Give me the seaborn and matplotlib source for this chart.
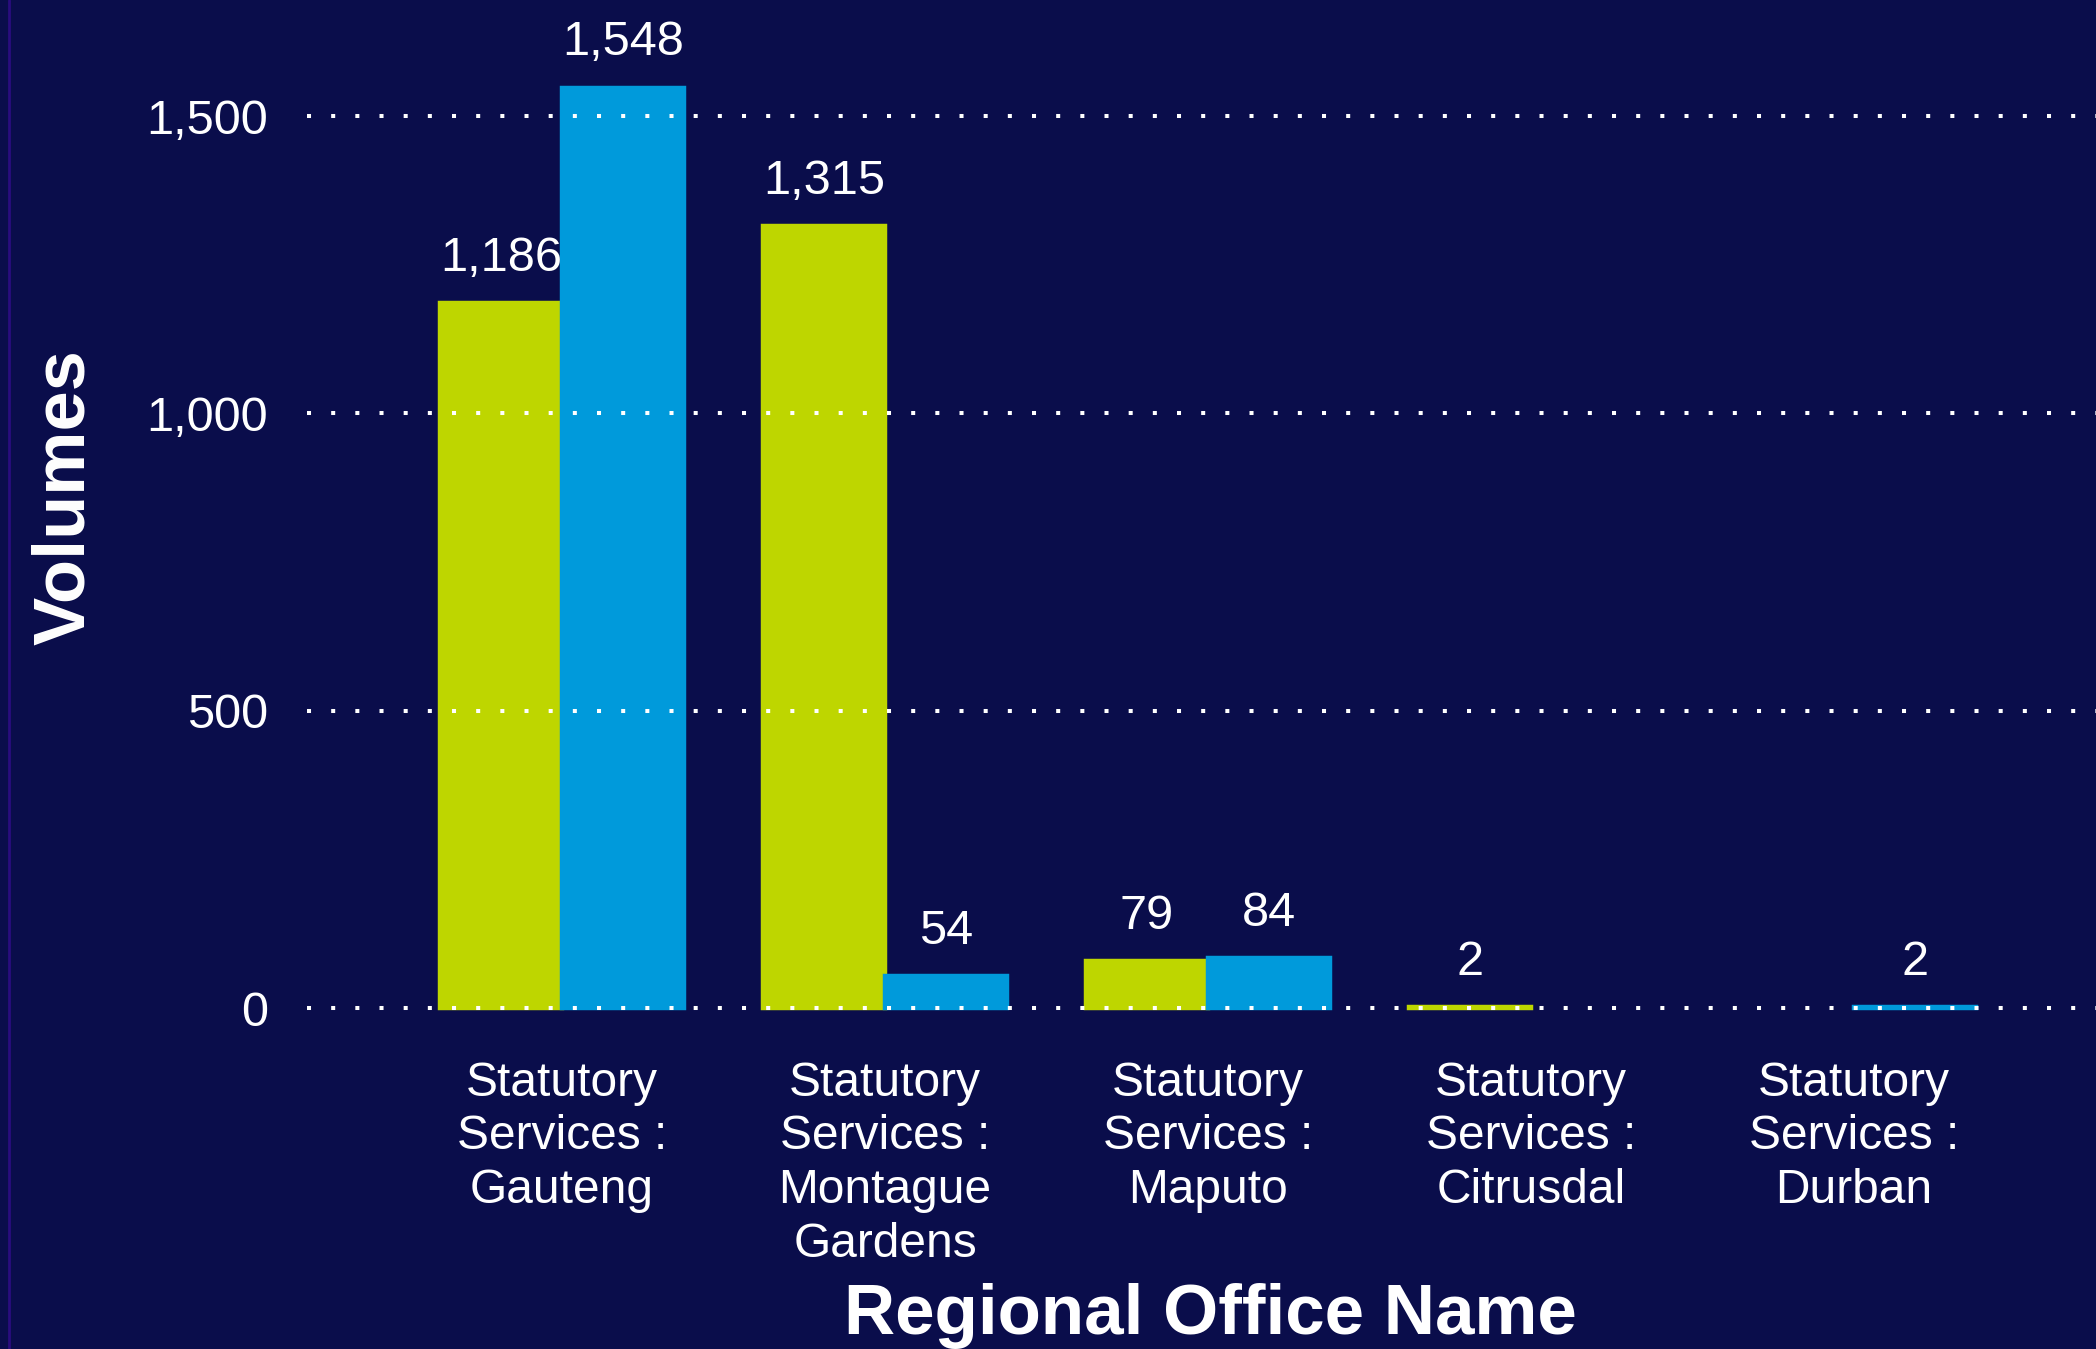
import matplotlib
matplotlib.use("Agg")
import matplotlib.pyplot as plt
from matplotlib.lines import Line2D
import seaborn as sns
import pandas as pd
import numpy as np

# ---- data ----
categories = [
    "Statutory\nServices :\nGauteng",
    "Statutory\nServices :\nMontague\nGardens",
    "Statutory\nServices :\nMaputo",
    "Statutory\nServices :\nCitrusdal",
    "Statutory\nServices :\nDurban",
]
series_names = ["Series 1", "Series 2"]
series_1 = [1186, 1315, 79, 2, np.nan]
series_2 = [1548, 54, 84, np.nan, 2]
y_ticks = [0, 500, 1000, 1500]

colors = ["#BED600", "#009ADB"]
bg = "#0A0D4B"

df = pd.DataFrame({
    "Regional Office Name": categories * 2,
    "Series": [series_names[0]] * len(categories) + [series_names[1]] * len(categories),
    "Volumes": series_1 + series_2,
})

sns.set_theme(style="dark")
plt.rcParams["font.family"] = ["Liberation Sans", "DejaVu Sans"]

W, H, DPI = 2096, 1349, 100
fig = plt.figure(figsize=(W / DPI, H / DPI), dpi=DPI, facecolor=bg)
ax_left, ax_bottom = 307 / W, 1 - 1008 / H
ax = fig.add_axes([ax_left, ax_bottom, 1 - ax_left, 1 - ax_bottom])
ax.set_facecolor(bg)

sns.barplot(
    data=df, x="Regional Office Name", y="Volumes", hue="Series",
    order=categories, hue_order=series_names, palette=colors,
    width=0.757, dodge=True, ax=ax, legend=False, zorder=2,
    linewidth=3.2, saturation=1,
)
for cont, c in zip(ax.containers, colors):
    for bar in cont:
        bar.set_edgecolor(c)
        bar.set_linewidth(3.2)
        bar.set_clip_on(False)

for cont in ax.containers:
    ax.bar_label(cont, fmt="{:,.0f}", padding=16, color="white", fontsize=35)

ax.set_ylim(0, 1008 / 297.3 * 500)
ax.set_xlim(-0.79, 4.75)
ax.set_yticks(y_ticks)
ax.set_yticklabels([f"{v:,}" for v in y_ticks])
ax.yaxis.grid(False)
ax.xaxis.grid(False)
for v in y_ticks:
    ax.axhline(v, color="white", linewidth=2.9, linestyle=(0, (1, 5)),
               dash_capstyle="butt", zorder=5, clip_on=False)
for s in ax.spines.values():
    s.set_visible(False)

ax.tick_params(axis="y", colors="white", labelsize=35, length=0, pad=28)
ax.tick_params(axis="x", colors="white", labelsize=34.5, length=0, pad=38)
for t in ax.get_xticklabels():
    t.set_linespacing(1.245)
    t.set_verticalalignment("top")

ax.set_xlabel("")
ax.set_ylabel("")
fig.text(1210 / W, 1 - 1334 / H, "Regional Office Name", color="white",
         fontsize=51, fontweight="bold", ha="center", va="baseline")
fig.text(65 / W, 1 - 497 / H, "Volumes", color="white", fontsize=52,
         fontweight="bold", ha="center", va="center", rotation=90)

fig.add_artist(Line2D([8.5 / W, 8.5 / W], [0, 1], transform=fig.transFigure,
                      color="#2A0C7E", linewidth=2))

fig.savefig("out.png", dpi=DPI, facecolor=bg)
